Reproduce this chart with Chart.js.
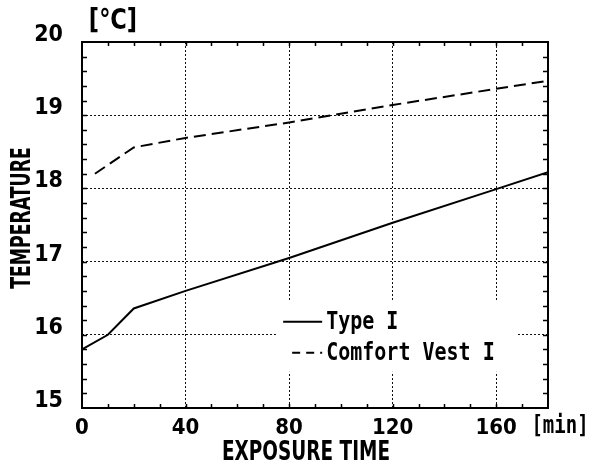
<!DOCTYPE html>
<html>
<head>
<meta charset="utf-8">
<script src="https://cdn.jsdelivr.net/npm/chart.js@4.4.1/dist/chart.umd.min.js"></script>
<style>
  html, body { margin: 0; padding: 0; background: #fff; }
  #wrap { width: 591px; height: 466px; }
</style>
</head>
<body>
<div id="wrap"><canvas id="chart"></canvas></div>
<script>
// values
const typeTime = [0, 10, 20, 40, 80, 120, 160, 180];
const typeTemp = [15.8, 16.0, 16.36, 16.6, 17.05, 17.53, 17.99, 18.22];
const vestTime = [5, 20, 40, 80, 120, 160, 180];
const vestTemp = [18.2, 18.56, 18.69, 18.9, 19.14, 19.36, 19.47];

const seriesNames = ['Type I', 'Comfort Vest I'];
const xTicks = [0, 40, 80, 120, 160];
const yTicks = [15, 16, 17, 18, 19, 20];

const NARROW = "'Liberation Sans Narrow', 'DejaVu Sans Condensed', sans-serif";
const MONO = "'DejaVu Sans Mono', monospace";

function toPoints(xs, ys) {
    return xs.map((v, i) => ({ x: v, y: ys[i] }));
}

// text squeezed or stretched to look like the condensed gothic of the original
function squeezedText(ctx, text, x, y, sx, sy, rot) {
    ctx.save();
    ctx.translate(x, y);
    if (rot) ctx.rotate(rot);
    ctx.scale(sx, sy);
    ctx.fillText(text, 0, 0);
    ctx.restore();
}

// frame, inside minor ticks, legend box and the unit labels
const decorations = {
    id: 'decorations',
    afterDatasetsDraw(chart) {
        const { ctx, chartArea: a, scales: { x, y } } = chart;
        ctx.save();

        // legend sits inside the plot on a white box
        const lx = x.getPixelForValue(75), ly = y.getPixelForValue(16.45);
        ctx.fillStyle = '#fff';
        ctx.fillRect(lx, ly, 241, 70);
        chart.data.datasets.forEach((ds, i) => {
            const rowY = ly + 20 + i * 31;
            ctx.strokeStyle = '#000';
            ctx.lineWidth = 2;
            ctx.setLineDash(ds.borderDash ? [8, 6] : []);
            ctx.beginPath();
            ctx.moveTo(lx + (i ? 16 : 7), rowY);
            ctx.lineTo(lx + 46, rowY);
            ctx.stroke();
            ctx.setLineDash([]);
            ctx.fillStyle = '#000';
            ctx.font = 'bold 20px ' + MONO;
            ctx.textBaseline = 'middle';
            ctx.textAlign = 'left';
            squeezedText(ctx, ds.label, lx + 50, rowY + 1, 1, 1.25);
        });

        // minor ticks pointing inwards
        ctx.strokeStyle = '#000';
        ctx.lineWidth = 1.5;
        ctx.beginPath();
        for (let t = 10; t < 180; t += 10) {
            const px = Math.round(x.getPixelForValue(t)) + 0.5;
            ctx.moveTo(px, a.bottom); ctx.lineTo(px, a.bottom - 4);
            ctx.moveTo(px, a.top); ctx.lineTo(px, a.top + 4);
        }
        for (let i = 1; i < 25; i++) {
            const py = Math.round(y.getPixelForValue(15 + i * 0.2)) + 0.5;
            ctx.moveTo(a.left, py); ctx.lineTo(a.left + 5, py);
            ctx.moveTo(a.right, py); ctx.lineTo(a.right - 5, py);
        }
        ctx.stroke();

        // frame
        ctx.lineWidth = 2;
        ctx.strokeRect(a.left, a.top, a.right - a.left, a.bottom - a.top);

        // units and axis titles
        ctx.fillStyle = '#000';
        ctx.textBaseline = 'middle';
        ctx.textAlign = 'center';
        ctx.font = 'bold 25px ' + NARROW;
        squeezedText(ctx, '[°C]', a.left + 31, a.top - 20, 1, 1.1);
        ctx.font = 'bold 19px ' + MONO;
        squeezedText(ctx, '[min]', a.right + 12, a.bottom + 19, 1, 1.3);
        ctx.font = 'bold 27px ' + NARROW;
        squeezedText(ctx, 'EXPOSURE TIME', a.left + 224, a.bottom + 45, 0.76, 1);
        ctx.font = 'bold 26px ' + NARROW;
        squeezedText(ctx, 'TEMPERATURE', 23, a.top + 176, 0.74, 1, -Math.PI / 2);
        ctx.restore();
    }
};

const gridColor = (list) => (c) => list.includes(c.tick.value) ? '#111' : 'rgba(0,0,0,0)';

new Chart(document.getElementById('chart'), {
    type: 'line',
    data: {
        datasets: [
            {
                label: seriesNames[0],
                data: toPoints(typeTime, typeTemp),
                borderColor: '#000',
                borderWidth: 2,
                pointRadius: 0,
                tension: 0,
            },
            {
                label: seriesNames[1],
                data: toPoints(vestTime, vestTemp),
                borderColor: '#000',
                borderWidth: 2,
                borderDash: [12, 6],
                pointRadius: 0,
                tension: 0,
            },
        ],
    },
    options: {
        responsive: true,
        maintainAspectRatio: false,
        animation: false,
        layout: { padding: { top: 42, right: 43, left: 0, bottom: 0 } },
        plugins: {
            legend: { display: false },
            tooltip: { enabled: false },
        },
        scales: {
            x: {
                type: 'linear',
                min: 0,
                max: 180,
                afterFit: (s) => { s.height = 58; },
                afterBuildTicks: (s) => { s.ticks = xTicks.concat([180]).map(v => ({ value: v })); },
                ticks: {
                    color: '#000',
                    padding: 9,
                    maxRotation: 0,
                    font: { family: NARROW, size: 22, weight: 'bold', lineHeight: 1 },
                    callback: (v) => xTicks.includes(v) ? String(v) : '',
                },
                grid: { color: gridColor(xTicks.slice(1)), lineWidth: 1, drawTicks: false },
                border: { display: false, dash: [2, 2] },
            },
            y: {
                min: 15,
                max: 20,
                afterFit: (s) => { s.width = 82; },
                afterBuildTicks: (s) => { s.ticks = yTicks.map(v => ({ value: v })); },
                ticks: {
                    color: '#000',
                    padding: 19,
                    labelOffset: -7,
                    font: { family: NARROW, size: 23, weight: 'bold', lineHeight: 1 },
                },
                grid: { color: gridColor(yTicks.slice(1, -1)), lineWidth: 1, drawTicks: false },
                border: { display: false, dash: [2, 2] },
            },
        },
    },
    plugins: [decorations],
});
</script>
</body>
</html>
